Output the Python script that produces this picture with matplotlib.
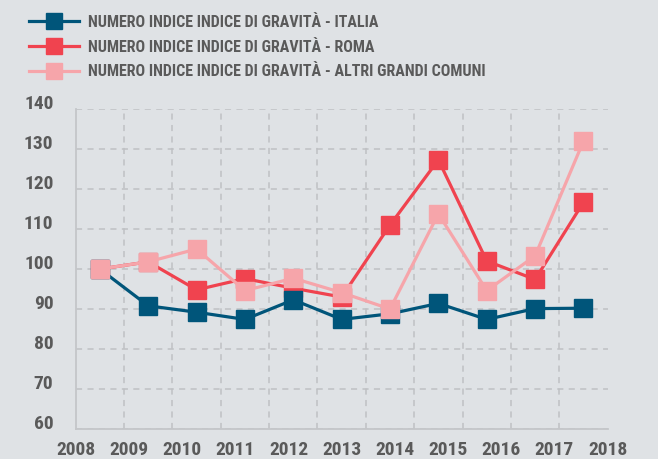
import matplotlib
matplotlib.use("Agg")
import matplotlib.pyplot as plt
from matplotlib import font_manager
from matplotlib.ticker import FixedLocator

# Data
years = [2008, 2009, 2010, 2011, 2012, 2013, 2014, 2015, 2016, 2017, 2018]
italia = [100, 90.8, 89.2, 87.4, 92.3, 87.4, 88.8, 91.4, 87.4, 90.1, 90.2]
roma = [100, 101.8, 94.8, 97.6, 95.2, 93.0, 111.0, 127.3, 102.0, 97.4, 116.7]
altri = [100, 101.8, 105.0, 94.6, 97.7, 94.1, 90.0, 113.8, 94.6, 103.3, 132.0]

series_labels = [
    "NUMERO INDICE INDICE DI GRAVITÀ - ITALIA",
    "NUMERO INDICE INDICE DI GRAVITÀ - ROMA",
    "NUMERO INDICE INDICE DI GRAVITÀ - ALTRI GRANDI COMUNI",
]
y_ticks = [60, 70, 80, 90, 100, 110, 120, 130, 140]

BG = "#dfe2e5"
TXT = "#5a5a5a"
GRID = "#bfc1c4"
C_ITA = "#00557a"
C_ROMA = "#f0434f"
C_ALTRI = "#f6a5aa"

# pick a narrow sans family if one is installed
installed = {f.name for f in font_manager.fontManager.ttflist}
narrow = [f for f in ("Roboto Condensed", "Liberation Sans Narrow",
                      "Open Sans Condensed", "DejaVu Sans Condensed")
          if f in installed]
plt.rcParams["font.family"] = narrow + ["DejaVu Sans"]
plt.rcParams["font.stretch"] = "condensed"
plt.rcParams["font.weight"] = "bold"

fig = plt.figure(figsize=(6.58, 4.59), dpi=100, facecolor=BG)
ax = fig.add_axes([0.115, 0.0654, 0.8085, 0.697], facecolor=BG)

n = len(years)
xs = [i + 0.5 for i in range(n)]

common = dict(marker="s", markersize=12.7, linewidth=2.3, clip_on=False)
l_ita, = ax.plot(xs, italia, color=C_ITA, zorder=4, **common)
l_roma, = ax.plot(xs, roma, color=C_ROMA, zorder=3, **common)
l_altri, = ax.plot(xs, altri, color=C_ALTRI, zorder=5, **common)

ax.set_xlim(0, n)
ax.set_ylim(60, 140)

# category boundaries carry the vertical grid; year labels spread across the axis
ax.xaxis.set_minor_locator(FixedLocator(list(range(1, n + 1))))
label_pos = [i * n / (len(years) - 1) for i in range(len(years))]
ax.set_xticks(label_pos)
ax.set_xticklabels([str(y) for y in years])
ax.set_yticks(y_ticks)
ax.set_yticklabels([str(v) for v in y_ticks])

ax.grid(False)
ax.grid(True, which="minor", axis="x", color=GRID, linestyle=(0, (4, 3.5)), linewidth=1.1)
ax.grid(True, which="major", axis="y", color=GRID, linestyle=(0, (4, 3.5)), linewidth=1.1)
ax.set_axisbelow(True)

for side in ("top", "right"):
    ax.spines[side].set_visible(False)
for side in ("left", "bottom"):
    ax.spines[side].set_color("#c4c6c9")
    ax.spines[side].set_linewidth(1.3)

ax.tick_params(axis="both", which="both", length=0)
ax.tick_params(axis="y", pad=16, labelsize=14, labelcolor=TXT)
ax.tick_params(axis="x", pad=8.5, labelsize=14, labelcolor=TXT)
for lab in ax.get_yticklabels():
    lab.set_verticalalignment("baseline")
    lab.set_fontweight("bold")
for lab in ax.get_xticklabels():
    lab.set_fontweight("bold")

leg = fig.legend(
    [l_ita, l_roma, l_altri], series_labels,
    loc="upper left", bbox_to_anchor=(0.035, 0.982),
    frameon=False, fontsize=11.5, handlelength=3.1, handletextpad=0.55,
    labelspacing=0.62, markerscale=0.88, borderaxespad=0,
)
for t in leg.get_texts():
    t.set_color(TXT)
    t.set_fontweight("bold")

fig.savefig("out.png", dpi=100, facecolor=BG)
